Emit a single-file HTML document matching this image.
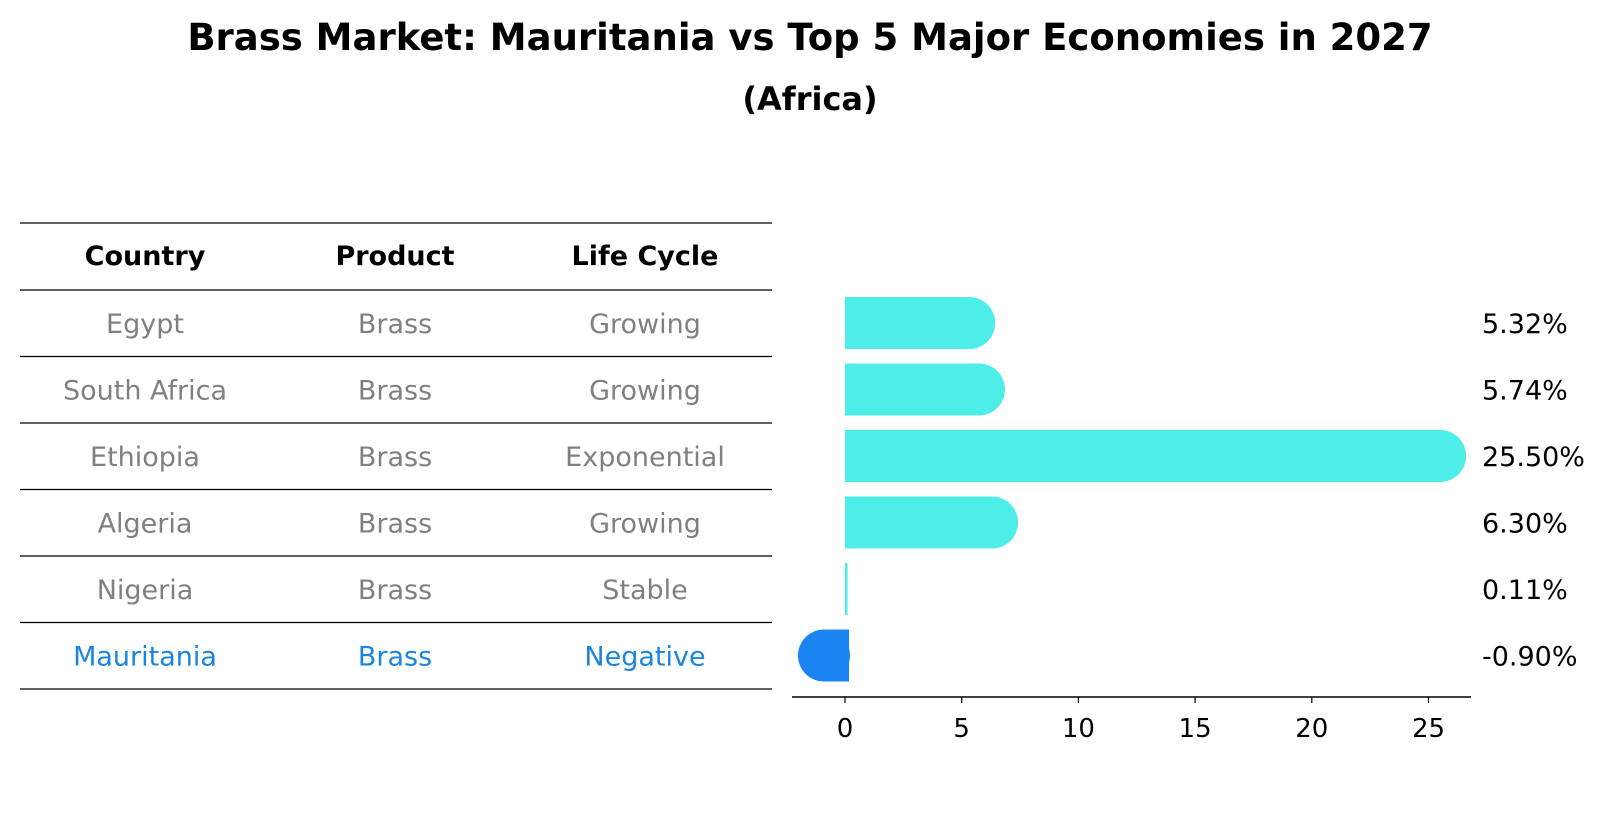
<!DOCTYPE html>
<html><head><meta charset="utf-8"><style>
body{margin:0;background:#fff;font-family:"Liberation Sans","DejaVu Sans",sans-serif;}
</style></head><body>
<svg width="1604" height="823" xmlns="http://www.w3.org/2000/svg" font-family="DejaVu Sans, Liberation Sans, sans-serif">
<text x="810" y="50" text-anchor="middle" font-size="37" font-weight="bold">Brass Market: Mauritania vs Top 5 Major Economies in 2027</text>
<text x="810" y="110" text-anchor="middle" font-size="32" font-weight="bold">(Africa)</text>
<g id="table"></g>
<g id="bars"></g>
</svg>
<script>
const countries=["Egypt","South Africa","Ethiopia","Algeria","Nigeria","Mauritania"];
const products=["Brass","Brass","Brass","Brass","Brass","Brass"];
const cycles=["Growing","Growing","Exponential","Growing","Stable","Negative"];
const values=[5.32,5.74,25.50,6.30,0.11,-0.90];
const labels=["5.32%","5.74%","25.50%","6.30%","0.11%","-0.90%"];
const ticks=[0,5,10,15,20,25];
const NS="http://www.w3.org/2000/svg";
function mk(t,a,p){const e=document.createElementNS(NS,t);for(const k in a)e.setAttribute(k,a[k]);p.appendChild(e);return e;}
const tbl=document.getElementById('table');
const colX=[145,395,645];
const rowY=i=>315+i*66.5;
for(let i=0;i<=7;i++){const y=i==0?223:(i==1?290:290+(i-1)*66.5);
const l=mk('line',{x1:20,x2:772,y1:y,y2:y,stroke:'#000','stroke-width':1.2},tbl);

}
["Country","Product","Life Cycle"].forEach((h,j)=>{const t=mk('text',{x:colX[j],y:265,'text-anchor':'middle','font-size':27,'font-weight':'bold'},tbl);t.textContent=h;

});
countries.forEach((c,i)=>{const col=i==5?'#1a85e0':'#808080';[c,products[i],cycles[i]].forEach((v,j)=>{
const t=mk('text',{x:colX[j],y:rowY(i)+18,'text-anchor':'middle','font-size':27,fill:col},tbl);t.textContent=v;

});});
const g=document.getElementById('bars');
const x0=845,sc=23.34;const X=v=>x0+v*sc;
const by=i=>rowY(i)+8;
values.forEach((v,i)=>{const neg=v<0;const col=neg?'#1a85f0':'#4deee8';const y=by(i);
const r=mk('rect',{x:Math.min(X(0),X(v)),y:y-26,width:Math.max(2.5,Math.abs(X(v)-X(0))+(neg?4:0)),height:52,fill:col},g);


if(Math.abs(v)>0.5){const c=mk('circle',{cx:X(v),cy:y,r:26,fill:col},g);

}
const t=mk('text',{x:1482,y:y+10,'font-size':27},g);t.textContent=labels[i];

});
const ay=697;
const ax=mk('line',{x1:792,x2:1471,y1:ay,y2:ay,stroke:'#000','stroke-width':1.5},g);


ticks.forEach(v=>{const l=mk('line',{x1:X(v),x2:X(v),y1:ay,y2:ay+6,stroke:'#000','stroke-width':1.2},g);


const t=mk('text',{x:X(v),y:ay+40,'text-anchor':'middle','font-size':26},g);t.textContent=v;

});
</script>
</body></html>
